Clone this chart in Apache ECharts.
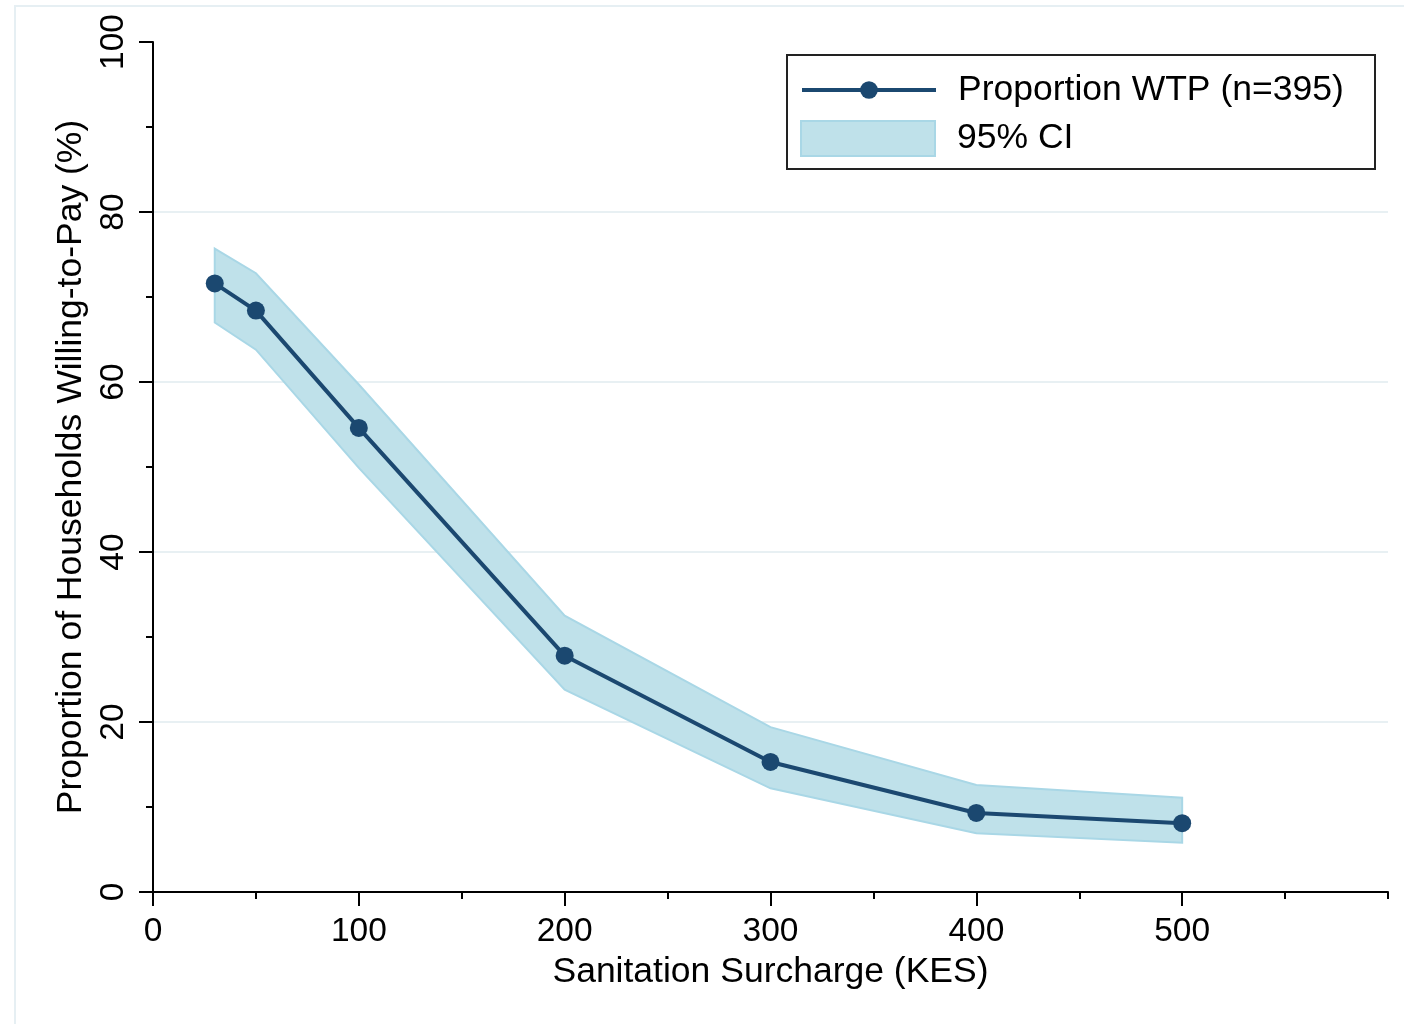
<!DOCTYPE html>
<html>
<head>
<meta charset="utf-8">
<script src="https://cdn.jsdelivr.net/npm/echarts@6/dist/echarts.min.js"></script>
<style>
  html, body { margin: 0; padding: 0; background: #fff; }
  #wtpChart { width: 1404px; height: 1024px; }
</style>
</head>
<body>
<div id="wtpChart"></div>
<script>
// surcharge levels (KES) and share of households willing to pay (%)
const surcharge = [30, 50, 100, 200, 300, 400, 500];
const wtp = [71.6, 68.4, 54.6, 27.8, 15.3, 9.3, 8.1];
const ciLower = [67.0, 63.8, 49.9, 23.8, 12.2, 6.9, 5.8];
const ciUpper = [75.7, 72.8, 59.7, 32.5, 19.4, 12.6, 11.1];
const xTicks = [0, 100, 200, 300, 400, 500];

const FONT = '"Liberation Sans", Arial, Helvetica, sans-serif';
const NAVY = '#1b4870';
const BAND = '#bfe1ea';
const BAND_EDGE = '#a9d7e6';

const chart = echarts.init(document.getElementById('wtpChart'));

chart.setOption({
  animation: false,
  textStyle: { fontFamily: FONT },
  grid: { left: 153, right: 16, top: 42, bottom: 132 },
  graphic: [
    {
      type: 'rect', silent: true,
      shape: { x: 15, y: 6, width: 1400, height: 1030 },
      style: { fill: 'none', stroke: '#e6eff3', lineWidth: 2 }
    },
    {
      type: 'rect', silent: true, z: 10,
      shape: { x: 787, y: 55, width: 588, height: 114 },
      style: { fill: '#fff', stroke: '#222', lineWidth: 2 }
    }
  ],
  legend: [
    {
      data: ['Proportion WTP (n=395)'],
      left: 800, top: 72, padding: 0, z: 11,
      itemWidth: 134, itemHeight: 22,
      lineStyle: { width: 4, color: NAVY },
      textStyle: { fontSize: 35.5, color: '#000', fontFamily: FONT, padding: [0, 0, 0, 17] }
    },
    {
      data: [{
        name: '95% CI', icon: 'rect',
        itemStyle: { color: BAND, borderColor: BAND_EDGE, borderWidth: 2 }
      }],
      left: 800, top: 120, padding: 0, z: 11,
      itemWidth: 134, itemHeight: 35,
      textStyle: { fontSize: 35.5, color: '#000', fontFamily: FONT, padding: [0, 0, 0, 17] }
    }
  ],
  xAxis: [
    {
      type: 'value', min: 0, max: 600, interval: 100,
      name: 'Sanitation Surcharge (KES)',
      nameLocation: 'middle', nameGap: 60,
      nameTextStyle: { fontSize: 35.5, color: '#000', fontFamily: FONT },
      axisLine: { lineStyle: { color: '#000', width: 2 } },
      axisTick: { length: 14, customValues: xTicks, lineStyle: { color: '#000', width: 2 } },
      axisLabel: { customValues: xTicks, fontSize: 33.5, color: '#000', margin: 23, fontFamily: FONT },
      splitLine: { show: false }
    },
    {
      type: 'value', min: 0, max: 600, interval: 50, position: 'bottom',
      axisLine: { show: false },
      axisTick: { length: 7, lineStyle: { color: '#000', width: 2 } },
      axisLabel: { show: false },
      splitLine: { show: false }
    }
  ],
  yAxis: {
    type: 'value', min: 0, max: 100, interval: 20,
    name: 'Proportion of Households Willing-to-Pay (%)',
    nameLocation: 'middle', nameGap: 58,
    nameTextStyle: { fontSize: 35.5, color: '#000', fontFamily: FONT },
    axisLine: { show: true, lineStyle: { color: '#000', width: 2 } },
    axisTick: { show: true, length: 14, lineStyle: { color: '#000', width: 2 } },
    minorTick: { show: true, splitNumber: 2, length: 7, lineStyle: { color: '#000', width: 2 } },
    axisLabel: { rotate: 90, fontSize: 33.5, color: '#000', margin: 22, fontFamily: FONT },
    splitLine: { show: true, showMinLine: false, showMaxLine: false, lineStyle: { color: '#e8f0f3', width: 2 } }
  },
  series: [
    {
      name: '95% CI',
      type: 'custom',
      z: 1,
      itemStyle: { color: BAND },
      data: surcharge.map((x, i) => [x, ciLower[i], ciUpper[i]]),
      encode: { x: 0, y: [1, 2] },
      renderItem: function (params, api) {
        if (params.dataIndex !== 0) return;
        const pts = [];
        surcharge.forEach((x, i) => pts.push(api.coord([x, ciUpper[i]])));
        for (let i = surcharge.length - 1; i >= 0; i--) pts.push(api.coord([surcharge[i], ciLower[i]]));
        return {
          type: 'polygon',
          shape: { points: pts },
          style: { fill: BAND, stroke: BAND_EDGE, lineWidth: 2 }
        };
      }
    },
    {
      name: 'Proportion WTP (n=395)',
      type: 'line',
      z: 3,
      data: surcharge.map((x, i) => [x, wtp[i]]),
      symbol: 'circle',
      symbolSize: 18,
      lineStyle: { color: NAVY, width: 4 },
      itemStyle: { color: NAVY }
    }
  ]
});
</script>
</body>
</html>
